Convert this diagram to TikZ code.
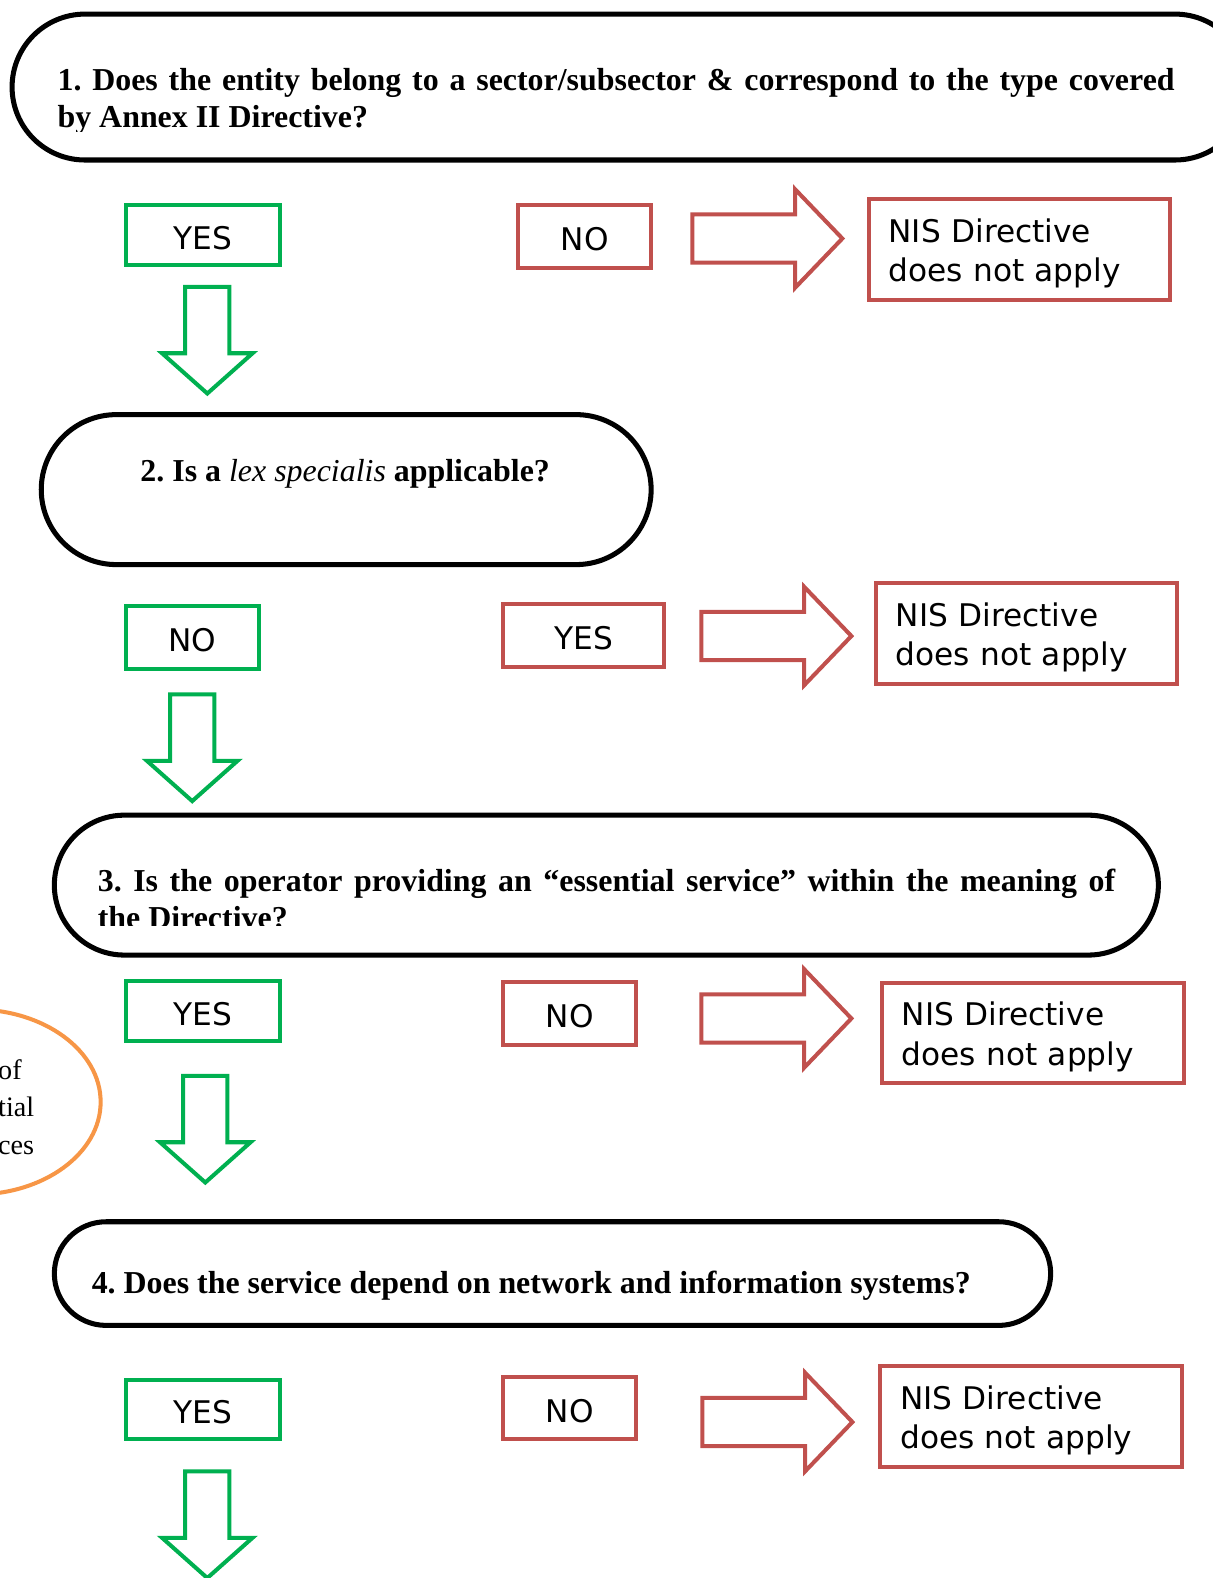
\documentclass[tikz,border=0pt]{standalone}
\usepackage{fontspec}
\setmainfont{Liberation Serif}
\newfontfamily\boxfont{DejaVu Sans}
\usepackage{tikz}
\usetikzlibrary{shapes.misc,shapes.geometric}
\definecolor{yesgreen}{HTML}{00B050}
\definecolor{nored}{HTML}{C0504D}
\definecolor{listorange}{HTML}{F79646}
\frenchspacing

\begin{document}
\begin{tikzpicture}[x=1pt,y=-1pt]
        \tikzstyle{question}=[rounded rectangle,draw=black,line width=5pt,inner sep=0pt]
        \tikzstyle{qtext}=[inner sep=0pt,anchor=base west,font=\fontsize{31.7}{37}\selectfont\bfseries]
        \tikzstyle{yesbox}=[rectangle,draw=yesgreen,line width=4pt,inner sep=0pt,text height=29,font=\boxfont\fontsize{31}{39}\selectfont]
        \tikzstyle{nobox}=[rectangle,draw=nored,line width=4pt,inner sep=0pt,text height=29,font=\boxfont\fontsize{31}{39}\selectfont]
        \tikzstyle{nisbox}=[nobox,text width=260,inner xsep=20pt,text height=31,align=left,minimum height=100]
        \tikzset{
          rightarr/.pic={\draw[nored,line width=4pt] (0,-24) -- (102,-24) -- (102,-49) -- (149,0) -- (102,49) -- (102,24) -- (0,24) -- cycle;},
          downarr/.pic={\draw[yesgreen,line width=4pt] (-22,0) -- (-22,66) -- (-45,66) -- (0,106) -- (45,66) -- (22,66) -- (22,0) -- cycle;}
        }
        \useasboundingbox (0,0) rectangle (1205,1568);

        % question 1
        \node[question,minimum width=1228,minimum height=145](q1) at (626,86.5){};
        \begin{scope}
        \clip (0,0) rectangle (1205,131);
        \node[qtext,text width=1110,align=justify](q1text) at (57,90){1. Does the entity belong to a sector/subsector \& correspond to the type covered\linebreak by Annex II Directive?};
        \end{scope}
        \node[yesbox,minimum width=153,minimum height=59](yes1) at (201.5,233.5){YES};
        \node[nobox,minimum width=132,minimum height=62](no1) at (581,235){NO};
        \pic at (688,237){rightarr};
        \node[nisbox](nis1) at (1013,248){NIS Directive\\does not apply};
        \pic at (206,285){downarr};

        % question 2
        \node[question,minimum width=606,minimum height=149](q2) at (344,486.5){};
        \node[qtext,anchor=base](q2text) at (343,478){2. Is a {\mdseries\itshape lex specialis} applicable?};
        \node[yesbox,minimum width=132,minimum height=63](no2) at (191,633.5){NO};
        \node[nobox,minimum width=160,minimum height=63](yes2) at (580,631.5){YES};
        \pic at (697,632){rightarr};
        \node[nisbox](nis2) at (1020,629.5){NIS Directive\\does not apply};
        \pic at (191,690){downarr};

        % question 3
        \node[question,minimum width=1097,minimum height=139](q3) at (602.5,879.5){};
        \begin{scope}
        \clip (0,800) rectangle (1205,920);
        \node[qtext,text width=1011,align=justify](q3text) at (97,886){3. Is the operator providing an “essential service” within the meaning of\linebreak the Directive?};
        \end{scope}
        \node[yesbox,minimum width=153,minimum height=59](yes3) at (201.5,1004.5){YES};
        \node[nobox,minimum width=132,minimum height=62](no3) at (566,1007){NO};
        \pic at (697,1012){rightarr};
        \node[nisbox](nis3) at (1026,1026.5){NIS Directive\\does not apply};
        \pic at (204,1069){downarr};
        \node[ellipse,draw=listorange,line width=4pt,minimum width=250,minimum height=184](list) at (-25,1095){};
        \node[anchor=west,align=left,inner sep=0pt,font=\fontsize{28}{37}\selectfont](listtext) at (-2,1100){of\\tial\\ces};

        % question 4
        \node[question,minimum width=990,minimum height=103](q4) at (549,1265.5){};
        \node[qtext](q4text) at (91,1285){4. Does the service depend on network and information systems?};
        \node[yesbox,minimum width=153,minimum height=59](yes4) at (201.5,1400.5){YES};
        \node[nobox,minimum width=132,minimum height=62](no4) at (566,1399){NO};
        \pic at (698,1413){rightarr};
        \node[nisbox](nis4) at (1024.5,1407.5){NIS Directive\\does not apply};
        \pic at (206,1462){downarr};
        \end{tikzpicture}
\end{document}
